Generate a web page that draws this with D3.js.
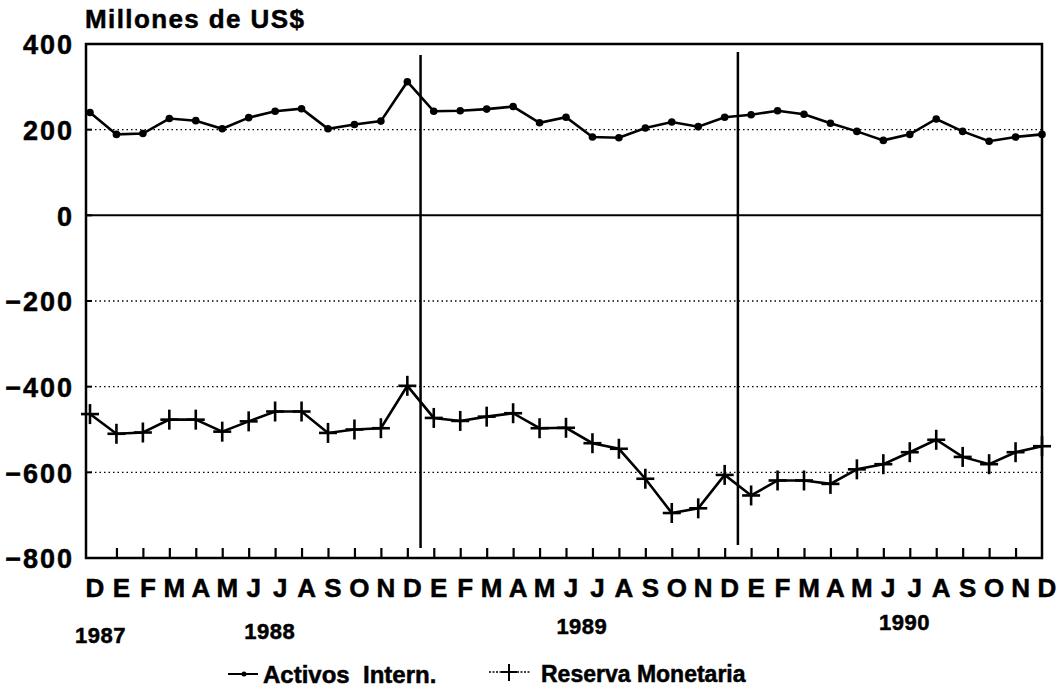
<!DOCTYPE html>
<html>
<head>
<meta charset="utf-8">
<script src="https://cdn.jsdelivr.net/npm/d3@7"></script>
<style>
 body { margin: 0; background: #fff; }
 text { font-family: "Liberation Sans", Arial, sans-serif; font-weight: bold; fill: #000; stroke: #000; stroke-width: 0.5px; }
</style>
</head>
<body>
<div id="chart"></div>
<script>
// monthly data, Dec 1987 .. Dec 1990
var months = ["D","E","F","M","A","M","J","J","A","S","O","N",
              "D","E","F","M","A","M","J","J","A","S","O","N",
              "D","E","F","M","A","M","J","J","A","S","O","N","D"];
var years = ["1987", "1988", "1989", "1990"];
var activos = [240, 189, 191, 226, 221, 202, 228, 243, 249, 202, 212, 220,
               312, 243, 244, 248, 254, 216, 229, 183, 181, 204, 218, 207,
               229, 235, 244, 236, 215, 196, 175, 189, 225, 196, 173, 183, 189];
var reserva = [-464, -510, -507, -477, -477, -505, -481, -458, -458, -508, -500, -497,
               -398, -473, -480, -470, -462, -497, -496, -532, -545, -615, -695, -684,
               -606, -654, -619, -619, -627, -593, -581, -553, -524, -564, -581, -553, -539];
var yTicks = [400, 200, 0, -200, -400, -600, -800];

var width = 1062, height = 695;

var svg = d3.select("#chart").append("svg")
 .attr("width", width)
 .attr("height", height);

var x = d3.scaleLinear().domain([0, 36]).range([90, 1042]);
var y = d3.scaleLinear().domain([-800, 400]).range([558, 44]);

// gridlines (dotted), zero line solid
svg.selectAll(".grid")
 .data(yTicks.filter(function(d) { return d != 400 && d != -800; }))
 .enter().append("line")
 .attr("x1", 86).attr("x2", 1042)
 .attr("y1", function(d) { return y(d); })
 .attr("y2", function(d) { return y(d); })
 .attr("stroke", "#000")
 .attr("stroke-width", function(d) { return d == 0 ? 2 : 1.4; })
 .attr("stroke-dasharray", function(d) { return d == 0 ? null : "1.5,3"; });

// frame
svg.append("rect")
 .attr("x", 86).attr("y", y(400))
 .attr("width", 1042 - 86).attr("height", y(-800) - y(400))
 .attr("fill", "none").attr("stroke", "#000").attr("stroke-width", 2.5);

// y axis labels
var yAxis = d3.axisLeft(y).tickValues(yTicks).tickSize(0).tickPadding(12);
var ya = svg.append("g").attr("transform", "translate(86,0)").call(yAxis);
ya.select(".domain").remove();
ya.selectAll("text")
 .style("font-size", "27px")
 .style("letter-spacing", "2px")
 .attr("dy", "0.36em");

// small ticks on the left axis
svg.selectAll(".ltick")
 .data(yTicks)
 .enter().append("line")
 .attr("x1", 86).attr("x2", 92)
 .attr("y1", function(d) { return y(d); })
 .attr("y2", function(d) { return y(d); })
 .attr("stroke", "#000").attr("stroke-width", 2);

// month ticks along the bottom
var xAxis = d3.axisBottom(x)
 .tickValues(d3.range(1, 36))
 .tickSize(-10)
 .tickFormat("");
var xa = svg.append("g").attr("transform", "translate(0," + y(-800) + ")").call(xAxis);
xa.select(".domain").remove();
xa.selectAll("line").attr("stroke", "#000").attr("stroke-width", 2.2);

// month letters
svg.selectAll(".month")
 .data(months)
 .enter().append("text")
 .attr("x", function(d, i) { return x(i) + 5; })
 .attr("y", 597)
 .attr("text-anchor", "middle")
 .style("font-size", "26px")
 .text(function(d) { return d; });

// years
var yearAt = [0.4, 6.8, 18.6, 30.8];
var yearBase = [643, 639, 634, 630];
svg.selectAll(".year")
 .data(years)
 .enter().append("text")
 .attr("x", function(d, i) { return x(yearAt[i]); })
 .attr("y", function(d, i) { return yearBase[i]; })
 .attr("text-anchor", "middle")
 .style("font-size", "22px")
 .style("letter-spacing", "0.5px")
 .text(function(d) { return d; });

// title
svg.append("text")
 .attr("x", 85).attr("y", 28)
 .style("font-size", "26px")
 .style("letter-spacing", "1.4px")
 .text("Millones de US$");

// year-end separators
svg.append("line")
 .attr("x1", x(12.5)).attr("x2", x(12.5))
 .attr("y1", 55).attr("y2", 548)
 .attr("stroke", "#000").attr("stroke-width", 2.5);
svg.append("line")
 .attr("x1", x(24.5)).attr("x2", x(24.5))
 .attr("y1", 52).attr("y2", 545)
 .attr("stroke", "#000").attr("stroke-width", 2.5);

var line = d3.line()
 .x(function(d, i) { return x(i); })
 .y(function(d) { return y(d); });

// Activos Intern.
svg.append("path")
 .datum(activos)
 .attr("d", line)
 .attr("fill", "none")
 .attr("stroke", "#000")
 .attr("stroke-width", 2.6);

svg.selectAll(".dot")
 .data(activos)
 .enter().append("circle")
 .attr("cx", function(d, i) { return x(i); })
 .attr("cy", function(d) { return y(d); })
 .attr("r", 3.8)
 .attr("fill", "#000");

// Reserva Monetaria
svg.append("path")
 .datum(reserva)
 .attr("d", line)
 .attr("fill", "none")
 .attr("stroke", "#000")
 .attr("stroke-width", 2.6);

var plus = svg.selectAll(".plus")
 .data(reserva)
 .enter().append("g")
 .attr("transform", function(d, i) { return "translate(" + x(i) + "," + y(d) + ")"; });
plus.append("line").attr("x1", -9).attr("x2", 9).attr("y1", 0).attr("y2", 0)
 .attr("stroke", "#000").attr("stroke-width", 2.6);
plus.append("line").attr("x1", 0).attr("x2", 0).attr("y1", -10).attr("y2", 10)
 .attr("stroke", "#000").attr("stroke-width", 2.6);

// legend
var lg = svg.append("g");
lg.append("line").attr("x1", 228).attr("x2", 258).attr("y1", 674).attr("y2", 674)
 .attr("stroke", "#000").attr("stroke-width", 2);
lg.append("circle").attr("cx", 244).attr("cy", 674).attr("r", 2.5);
lg.append("text").attr("x", 263).attr("y", 683)
 .style("font-size", "24px")
 .attr("xml:space", "preserve")
 .style("white-space", "pre")
 .text("Activos  Intern.");

lg.append("line").attr("x1", 489).attr("x2", 531).attr("y1", 672).attr("y2", 672)
 .attr("stroke", "#000").attr("stroke-width", 1.6)
 .attr("stroke-dasharray", "2,1.5");
lg.append("line").attr("x1", 501).attr("x2", 517).attr("y1", 672).attr("y2", 672)
 .attr("stroke", "#000").attr("stroke-width", 2);
lg.append("line").attr("x1", 509).attr("x2", 509).attr("y1", 664).attr("y2", 681)
 .attr("stroke", "#000").attr("stroke-width", 2);
lg.append("text").attr("x", 541).attr("y", 682)
 .style("font-size", "23px")
 .text("Reserva Monetaria");
</script>
</body>
</html>
